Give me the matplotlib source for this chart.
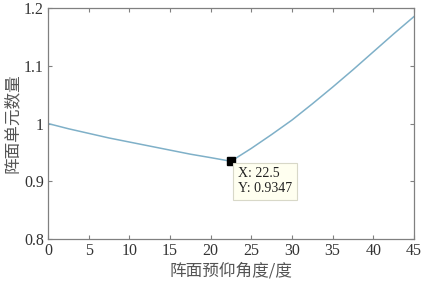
import matplotlib
matplotlib.use('Agg')
import matplotlib.pyplot as plt

plt.rcParams['font.family'] = ['Liberation Serif', 'Noto Sans CJK SC', 'DejaVu Sans']

# values
angle = [0, 2.5, 5, 7.5, 10, 12.5, 15, 17.5, 20, 22.5,
         25, 27.5, 30, 32.5, 35, 37.5, 40, 42.5, 45]
count = [1.0, 0.991, 0.983, 0.975, 0.968, 0.961, 0.954, 0.947, 0.941, 0.9347,
         0.957, 0.981, 1.006, 1.034, 1.063, 1.093, 1.124, 1.155, 1.185]
tip_x, tip_y = 22.5, 0.9347
xticks = [0, 5, 10, 15, 20, 25, 30, 35, 40, 45]
yticks = [0.8, 0.9, 1.0, 1.1, 1.2]
yticklabels = ['0.8', '0.9', '1', '1.1', '1.2']

fig = plt.figure(figsize=(4.25, 2.83), dpi=100)
ax = fig.add_axes([0.113, 0.155, 0.861, 0.817])

ax.plot(angle, count, color='#7fb0c8', lw=1.1)
ax.plot([tip_x], [tip_y], marker='s', color='black', ms=5.5, ls='none')

ax.text(23.4, 0.924, 'X: 22.5\nY: 0.9347', fontsize=10, va='top', ha='left',
        color='#222222', linespacing=1.15,
        bbox=dict(boxstyle='square,pad=0.35', fc='#fffff0', ec='#d8d8c8', lw=0.8))

ax.set_xlim(0, 45)
ax.set_ylim(0.8, 1.2)
ax.set_xticks(xticks)
ax.set_yticks(yticks)
ax.set_yticklabels(yticklabels)
ax.tick_params(direction='in', top=True, right=True, length=3, colors='#808080',
               labelcolor='#333333', labelsize=11.5, pad=3)
for s in ax.spines.values():
    s.set_color('#808080')
    s.set_linewidth(0.9)

ax.set_xlabel('阵面预仰角度/度', fontsize=12, color='#555555', labelpad=2,
              family=['Noto Sans CJK SC', 'DejaVu Sans'])
ax.set_ylabel('阵面单元数量', fontsize=12, color='#555555', labelpad=2,
              family=['Noto Sans CJK SC', 'DejaVu Sans'])

fig.savefig('out.png', dpi=100)
